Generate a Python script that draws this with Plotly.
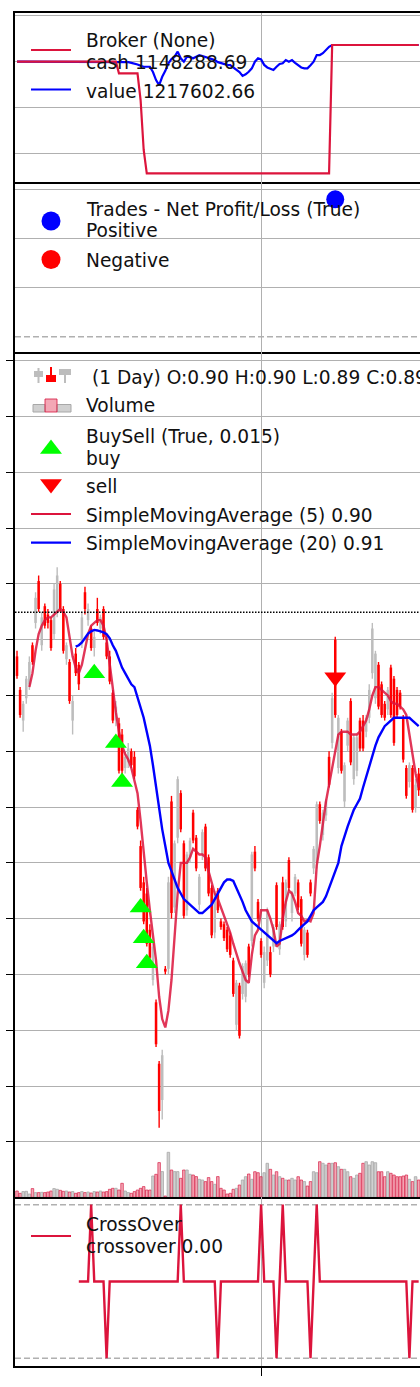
import plotly.graph_objects as go

# ---------------- data ----------------
OPEN = [0.874, 0.862, 0.851, 0.859, 0.864, 0.878, 0.886, 0.901, 0.878, 0.892,
        0.889, 0.887, 0.882, 0.890, 0.900, 0.891, 0.873, 0.872, 0.851, 0.875,
        0.871, 0.879, 0.897, 0.887, 0.884, 0.877, 0.891, 0.884, 0.891, 0.879,
        0.874, 0.861, 0.851, 0.850, 0.846, 0.834, 0.836, 0.840, 0.838, 0.819,
        0.806, 0.793, 0.789, 0.776, 0.758, 0.750, 0.728, 0.715, 0.762, 0.762,
        0.822, 0.784, 0.809, 0.825, 0.807, 0.783, 0.802, 0.818, 0.809, 0.785,
        0.803, 0.813, 0.802, 0.791, 0.775, 0.790, 0.779, 0.778, 0.776, 0.774,
        0.765, 0.742, 0.756, 0.753, 0.752, 0.770, 0.772, 0.804, 0.786, 0.772,
        0.757, 0.765, 0.768, 0.770, 0.792, 0.769, 0.793, 0.779, 0.801, 0.782,
        0.789, 0.793, 0.787, 0.767, 0.775, 0.793, 0.798, 0.800, 0.821, 0.810,
        0.817, 0.838, 0.843, 0.880, 0.834, 0.847, 0.822, 0.842, 0.858, 0.830,
        0.833, 0.851, 0.851, 0.847, 0.852, 0.868, 0.859, 0.871, 0.864, 0.857,
        0.855, 0.870, 0.866, 0.862, 0.861, 0.852, 0.834, 0.829, 0.834, 0.820,
        0.832]
HIGH = [0.876, 0.863, 0.858, 0.867, 0.874, 0.879, 0.897, 0.903, 0.890, 0.893,
        0.891, 0.888, 0.900, 0.906, 0.901, 0.892, 0.879, 0.873, 0.860, 0.877,
        0.872, 0.890, 0.899, 0.893, 0.885, 0.883, 0.895, 0.889, 0.892, 0.881,
        0.876, 0.862, 0.858, 0.852, 0.848, 0.840, 0.843, 0.841, 0.840, 0.820,
        0.808, 0.795, 0.791, 0.778, 0.772, 0.751, 0.729, 0.733, 0.763, 0.795,
        0.824, 0.808, 0.831, 0.826, 0.808, 0.804, 0.809, 0.819, 0.810, 0.796,
        0.812, 0.814, 0.803, 0.792, 0.790, 0.791, 0.780, 0.779, 0.777, 0.775,
        0.766, 0.758, 0.757, 0.764, 0.765, 0.771, 0.804, 0.806, 0.787, 0.773,
        0.770, 0.784, 0.770, 0.778, 0.793, 0.779, 0.795, 0.794, 0.802, 0.790,
        0.796, 0.794, 0.788, 0.777, 0.776, 0.794, 0.806, 0.822, 0.822, 0.819,
        0.823, 0.840, 0.861, 0.881, 0.853, 0.848, 0.836, 0.852, 0.859, 0.846,
        0.846, 0.852, 0.853, 0.853, 0.864, 0.886, 0.876, 0.872, 0.865, 0.858,
        0.863, 0.871, 0.867, 0.863, 0.862, 0.853, 0.835, 0.836, 0.835, 0.830,
        0.834]
LOW = [0.866, 0.852, 0.847, 0.857, 0.862, 0.871, 0.884, 0.890, 0.876, 0.884,
       0.884, 0.876, 0.880, 0.888, 0.890, 0.875, 0.871, 0.857, 0.846, 0.867,
       0.862, 0.877, 0.889, 0.885, 0.876, 0.874, 0.885, 0.882, 0.880, 0.873,
       0.864, 0.850, 0.849, 0.832, 0.831, 0.832, 0.834, 0.834, 0.830, 0.812,
       0.790, 0.778, 0.770, 0.765, 0.756, 0.734, 0.705, 0.708, 0.760, 0.760,
       0.780, 0.782, 0.807, 0.811, 0.780, 0.781, 0.800, 0.807, 0.797, 0.783,
       0.801, 0.797, 0.788, 0.773, 0.773, 0.782, 0.776, 0.772, 0.768, 0.766,
       0.752, 0.740, 0.737, 0.751, 0.750, 0.759, 0.770, 0.797, 0.779, 0.766,
       0.755, 0.763, 0.759, 0.768, 0.776, 0.767, 0.776, 0.777, 0.790, 0.779,
       0.788, 0.783, 0.770, 0.765, 0.766, 0.788, 0.796, 0.798, 0.814, 0.808,
       0.815, 0.827, 0.841, 0.852, 0.832, 0.832, 0.820, 0.840, 0.835, 0.828,
       0.831, 0.840, 0.840, 0.845, 0.850, 0.866, 0.857, 0.855, 0.852, 0.851,
       0.853, 0.852, 0.842, 0.852, 0.855, 0.836, 0.823, 0.827, 0.818, 0.818,
       0.824]
CLOSE = [0.867, 0.853, 0.857, 0.866, 0.872, 0.872, 0.895, 0.891, 0.888, 0.885,
         0.886, 0.877, 0.898, 0.903, 0.891, 0.876, 0.878, 0.858, 0.858, 0.868,
         0.864, 0.888, 0.891, 0.891, 0.877, 0.881, 0.886, 0.888, 0.881, 0.874,
         0.865, 0.851, 0.856, 0.833, 0.833, 0.838, 0.841, 0.835, 0.831, 0.813,
         0.791, 0.779, 0.771, 0.766, 0.770, 0.735, 0.711, 0.731, 0.761, 0.793,
         0.782, 0.807, 0.830, 0.812, 0.781, 0.803, 0.808, 0.808, 0.798, 0.795,
         0.811, 0.798, 0.789, 0.774, 0.789, 0.783, 0.777, 0.773, 0.769, 0.767,
         0.753, 0.757, 0.738, 0.763, 0.764, 0.760, 0.803, 0.798, 0.780, 0.767,
         0.768, 0.783, 0.760, 0.777, 0.777, 0.778, 0.777, 0.793, 0.791, 0.789,
         0.795, 0.784, 0.771, 0.776, 0.767, 0.789, 0.805, 0.821, 0.815, 0.818,
         0.822, 0.828, 0.859, 0.853, 0.852, 0.833, 0.835, 0.851, 0.836, 0.845,
         0.845, 0.841, 0.841, 0.852, 0.862, 0.884, 0.875, 0.856, 0.853, 0.852,
         0.862, 0.853, 0.843, 0.853, 0.856, 0.837, 0.824, 0.835, 0.819, 0.828,
         0.826]
VOLUME_K = [630, 400, 570, 600, 330, 870, 470, 470, 500, 470,
            530, 630, 870, 800, 700, 600, 630, 530, 570, 400,
            470, 570, 470, 530, 430, 570, 530, 630, 530, 570,
            800, 900, 900, 730, 1400, 630, 470, 400, 570, 730,
            900, 1070, 730, 730, 2130, 2300, 3470, 2570, 130, 4500,
            2730, 2570, 2570, 1900, 2730, 2730, 2300, 2230, 2070, 1800,
            1730, 1570, 1970, 1570, 1300, 2070, 900, 730, 330, 400,
            800, 900, 1230, 1730, 2060, 2330, 1800, 2560, 2460, 2060,
            2460, 3400, 2800, 2230, 2560, 2060, 1900, 1730, 1730, 1900,
            1730, 2060, 1730, 1570, 1130, 1570, 2560, 2460, 3560, 3400,
            3230, 3400, 3400, 3460, 3060, 2800, 2800, 2560, 2060, 1900,
            2230, 2400, 3400, 3560, 3230, 3560, 3460, 2560, 2560, 2060,
            2560, 2400, 2230, 2060, 2060, 2130, 2230, 1800, 1570, 2060,
            1730]
SMA5_START = 4
SMA5 = [0.863, 0.868, 0.876, 0.882, 0.885, 0.887,
        0.888, 0.888, 0.889, 0.890, 0.891, 0.890, 0.888, 0.881, 0.874, 0.870,
        0.868, 0.871, 0.876, 0.882, 0.885, 0.886, 0.887, 0.887, 0.885, 0.880,
        0.871, 0.861, 0.854, 0.847, 0.842, 0.839, 0.837, 0.834, 0.830, 0.825,
        0.815, 0.803, 0.793, 0.783, 0.773, 0.765, 0.752, 0.744, 0.741, 0.747,
        0.758, 0.774, 0.789, 0.800, 0.800, 0.800, 0.802, 0.805, 0.804, 0.803,
        0.803, 0.802, 0.797, 0.793, 0.789, 0.787, 0.784, 0.781, 0.778, 0.775,
        0.771, 0.767, 0.764, 0.761, 0.758, 0.757, 0.767, 0.774, 0.776, 0.783,
        0.783, 0.783, 0.780, 0.776, 0.770, 0.771, 0.780, 0.786, 0.790, 0.789,
        0.786, 0.782, 0.781, 0.779, 0.7795, 0.779, 0.782, 0.799, 0.806, 0.814,
        0.822, 0.828, 0.834, 0.840, 0.846, 0.847, 0.847, 0.847, 0.846, 0.846,
        0.846, 0.847, 0.849, 0.851, 0.855, 0.860, 0.863, 0.863, 0.862, 0.861,
        0.860, 0.858, 0.857, 0.857, 0.856, 0.855, 0.853, 0.846, 0.838, 0.832,
        0.827]
SMA20_START = 19
SMA20 = [0.8775,
         0.878, 0.879, 0.8805, 0.8822, 0.883, 0.8835, 0.8833, 0.883, 0.8826, 0.882,
         0.8805, 0.878, 0.876, 0.873, 0.870, 0.868, 0.866, 0.864, 0.863, 0.859,
         0.856, 0.852, 0.847, 0.842, 0.835, 0.827, 0.819, 0.812, 0.806, 0.800,
         0.797, 0.794, 0.791, 0.789, 0.787, 0.786, 0.785, 0.784, 0.783, 0.782,
         0.782, 0.783, 0.7838, 0.785, 0.787, 0.789, 0.791, 0.793, 0.794, 0.794,
         0.7935, 0.791, 0.789, 0.786, 0.783, 0.781, 0.779, 0.778, 0.777, 0.776,
         0.775, 0.774, 0.773, 0.772, 0.7712, 0.772, 0.7725, 0.773, 0.7735, 0.774,
         0.7748, 0.776, 0.777, 0.778, 0.779, 0.781, 0.783, 0.784, 0.785, 0.786,
         0.788, 0.791, 0.794, 0.797, 0.800, 0.806, 0.810, 0.813, 0.816, 0.819,
         0.821, 0.823, 0.827, 0.831, 0.834, 0.838, 0.842, 0.845, 0.847, 0.849,
         0.850, 0.851, 0.852, 0.852, 0.852, 0.852, 0.852, 0.852, 0.851, 0.850,
         0.849]
CROSS_START = 20
CROSSOVER = [0, 0, 0, 0, 1, 0, 0, 0, 0, -1,
             0, 0, 0, 0, 0, 0, 0, 0, 0, 0,
             0, 0, 0, 0, 0, 0, 0, 0, 0, 0,
             0, 0, 0, 1, 0, 0, 0, 0, 0, 0,
             0, 0, 0, 0, 0, -1, 0, 0, 0, 0,
             0, 0, 0, 0, 0, 0, 0, 0, 0, 1,
             0, 0, 0, 0, -1, 0, 1, 0, 0, 0,
             0, 0, 0, 0, 0, -1, 0, 1, 0, 0,
             0, 0, 0, 0, 0, 0, 0, 0, 0, 0,
             0, 0, 0, 0, 0, 0, 0, 0, 0, 0,
             0, 0, 0, 0, 0, 0, 0, -1, 0, 0,
             0]
CASH = [1000000, 1000000, 1000000, 1000000, 1000000, 1000000, 1000000, 1000000, 1000000, 1000000,
        1000000, 1000000, 1000000, 1000000, 1000000, 1000000, 1000000, 1000000, 1000000, 1000000,
        1000000, 1000000, 1000000, 1000000, 1000000, 1000000, 1000000, 1000000, 1000000, 1000000,
        1000000, 1000000, 1000000, 949300, 949300, 949300, 949300, 949300, 949300, 949300,
        832700, 614400, 512600, 512600, 512600, 512600, 512600, 512600, 512600, 512600,
        512600, 512600, 512600, 512600, 512600, 512600, 512600, 512600, 512600, 512600,
        512600, 512600, 512600, 512600, 512600, 512600, 512600, 512600, 512600, 512600,
        512600, 512600, 512600, 512600, 512600, 512600, 512600, 512600, 512600, 512600,
        512600, 512600, 512600, 512600, 512600, 512600, 512600, 512600, 512600, 512600,
        512600, 512600, 512600, 512600, 512600, 512600, 512600, 512600, 512600, 512600,
        512600, 512600, 1072900, 1072900, 1072900, 1072900, 1072900, 1072900, 1072900, 1072900,
        1072900, 1072900, 1072900, 1072900, 1072900, 1072900, 1072900, 1072900, 1072900, 1072900,
        1072900, 1072900, 1072900, 1072900, 1072900, 1072900, 1072900, 1072900, 1072900, 1072900,
        1072900]
VALUE = [1000000, 1000000, 1000000, 1000000, 1000000, 1000000, 1000000, 1000000, 1000000, 1000000,
         1000000, 1000000, 1000000, 1000000, 1000000, 1000000, 1000000, 1000000, 1000000, 1000000,
         1000000, 1000000, 1000000, 1000000, 1000000, 1000000, 1000000, 1000000, 1000000, 1000000,
         1000000, 1000000, 1000000, 1000000, 1000000, 1000000, 998000, 995000, 993000, 988000,
         982000, 978000, 978000, 978000, 955000, 920000, 898000, 934000, 960000, 993000,
         1012000, 1022000, 1044000, 1015000, 1000000, 1022000, 1020000, 1015000, 1022000, 1029000,
         1025000, 1020000, 1015000, 1010000, 1007000, 998000, 993000, 988000, 986000, 985000,
         975000, 964000, 955000, 938000, 945000, 956000, 971000, 1000000, 1015000, 1010000,
         986000, 975000, 971000, 964000, 978000, 990000, 993000, 1007000, 1000000, 1007000,
         995000, 986000, 975000, 971000, 971000, 985000, 1000000, 1029000, 1029000, 1037000,
         1050000, 1065000, 1072900, 1072900, 1072900, 1072900, 1072900, 1072900, 1072900, 1072900,
         1072900, 1072900, 1072900, 1072900, 1072900, 1072900, 1072900, 1072900, 1072900, 1072900,
         1072900, 1072900, 1072900, 1072900, 1072900, 1072900, 1072900, 1072900, 1072900, 1072900,
         1072900]
BUY_INDEX = [25, 32, 34, 40, 41, 42]
BUY_PRICE = [0.868, 0.843, 0.829, 0.784, 0.773, 0.764]
SELL_INDEX = [103]
SELL_PRICE = [0.8665]
TRADE_INDEX = [103]
TRADE_PNL = [69800]
LAST_CLOSE = 0.8898
DATE_TICK_INDEX = [79]
CROSS_LEVELS = [1, -1]

# ---------------- styling / layout constants ----------------
W, H = 420, 1387
ML, MR, MT, MB = 15, 0, 13, 21
PLOT_BOTTOM = H - MB
PLOT_H = H - MT - MB
FONT = "DejaVu Sans"
FS = 18.6
CRIMSON = "#dc143c"
BLUE = "#0000ff"
UPC = "#bdbdbd"
DOWNC = "#ff0000"
GRID = "#b0b0b0"
X_RANGE = [-0.65, 130.43]


def dom(top_px, bottom_px):
    return [(PLOT_BOTTOM - bottom_px) / PLOT_H, (PLOT_BOTTOM - top_px) / PLOT_H]


N = len(CLOSE)
IDX = list(range(N))
up = [c >= o for o, c in zip(OPEN, CLOSE)]

fig = go.Figure()

# ---- panel 1: broker ----
fig.add_trace(go.Scatter(x=IDX, y=VALUE, mode="lines", line=dict(color=BLUE, width=2.2),
                         xaxis="x", yaxis="y"))
fig.add_trace(go.Scatter(x=IDX, y=CASH, mode="lines", line=dict(color=CRIMSON, width=2.2),
                         xaxis="x", yaxis="y"))

# ---- panel 2: trades ----
fig.add_trace(go.Scatter(x=TRADE_INDEX, y=TRADE_PNL, mode="markers",
                         marker=dict(color=BLUE, size=18, symbol="circle"),
                         xaxis="x2", yaxis="y2", cliponaxis=False))

# ---- panel 3: price ----
for is_up, col in [(True, UPC), (False, DOWNC)]:
    wx, wy = [], []
    bx, bb, bh = [], [], []
    for i in IDX:
        if up[i] != is_up:
            continue
        wx += [i, i, None]
        wy += [LOW[i], HIGH[i], None]
        bx.append(i)
        lo = min(OPEN[i], CLOSE[i])
        bb.append(lo)
        bh.append(max(abs(CLOSE[i] - OPEN[i]), 0.0008))
    fig.add_trace(go.Scatter(x=wx, y=wy, mode="lines", line=dict(color=col, width=1.4),
                             xaxis="x3", yaxis="y3", connectgaps=False))
    fig.add_trace(go.Bar(x=bx, y=bh, base=bb, width=0.82,
                         marker=dict(color=col, line=dict(width=0)),
                         xaxis="x3", yaxis="y3"))

# volume (overlay axis)
vol_fill = ["rgba(200,200,200,0.85)" if u else "rgba(228,60,90,0.45)" for u in up]
vol_edge = ["#a8a8a8" if u else "rgba(215,30,70,0.85)" for u in up]
fig.add_trace(go.Bar(x=IDX, y=VOLUME_K, width=0.82,
                     marker=dict(color=vol_fill, line=dict(color=vol_edge, width=0.8)),
                     xaxis="x3", yaxis="y5"))

fig.add_trace(go.Scatter(x=IDX[SMA5_START:SMA5_START + len(SMA5)], y=SMA5, mode="lines",
                         line=dict(color=CRIMSON, width=2.4), opacity=0.85,
                         xaxis="x3", yaxis="y3"))
fig.add_trace(go.Scatter(x=IDX[SMA20_START:SMA20_START + len(SMA20)], y=SMA20, mode="lines",
                         line=dict(color=BLUE, width=2.4),
                         xaxis="x3", yaxis="y3"))
fig.add_trace(go.Scatter(x=BUY_INDEX, y=BUY_PRICE, mode="markers",
                         marker=dict(symbol="triangle-up", size=19, color="#00ff00"),
                         xaxis="x3", yaxis="y3"))
fig.add_trace(go.Scatter(x=SELL_INDEX, y=SELL_PRICE, mode="markers",
                         marker=dict(symbol="triangle-down", size=19, color="#ff0000"),
                         xaxis="x3", yaxis="y3"))

# ---- panel 4: crossover ----
fig.add_trace(go.Scatter(x=IDX[CROSS_START:CROSS_START + len(CROSSOVER)], y=CROSSOVER,
                         mode="lines", line=dict(color=CRIMSON, width=2.4),
                         xaxis="x4", yaxis="y4", cliponaxis=False))

# ---- legend glyphs (pixel overlay axis) ----
def seg(y, color):
    fig.add_trace(go.Scatter(x=[31, 71], y=[y, y], mode="lines",
                             line=dict(color=color, width=2.2),
                             xaxis="x6", yaxis="y6", cliponaxis=False))


def dot(x, y, color, symbol, size):
    fig.add_trace(go.Scatter(x=[x], y=[y], mode="markers",
                             marker=dict(color=color, symbol=symbol, size=size),
                             xaxis="x6", yaxis="y6", cliponaxis=False))


seg(50, CRIMSON)
seg(89.5, BLUE)
dot(51, 221, BLUE, "circle", 19)
dot(51, 259.5, "#ff0000", "circle", 19)
dot(51, 449, "#00ff00", "triangle-up", 19)
dot(51, 484, "#ff0000", "triangle-down", 19)
seg(514, CRIMSON)
seg(542.7, BLUE)
seg(1236, CRIMSON)

LEG_TEXT = [
    (40, "Broker (None)"), (62.5, "cash 1148288.69"), (91, "value 1217602.66"),
    (209, "Trades - Net Profit/Loss (True)"), (230.5, "Positive"), (260, "Negative"),
    (377, "\u00a0(1 Day) O:0.90 H:0.90 L:0.89 C:0.89"), (405, "Volume"),
    (436, "BuySell (True, 0.015)"), (458, "buy"), (486, "sell"),
    (515, "SimpleMovingAverage (5) 0.90"), (543, "SimpleMovingAverage (20) 0.91"),
    (1224, "CrossOver"), (1246, "crossover 0.00"),
]
annotations = [dict(xref="x6", yref="y6", x=84, y=yy, text=t, xanchor="left",
                    yanchor="middle", showarrow=False,
                    font=dict(family=FONT, size=FS, color="#111111"))
               for yy, t in LEG_TEXT]

shapes = []
# candle legend icon
for (x0, x1, yb0, yb1, yw0, yw1, col) in [
        (34, 43, 371, 377, 368, 383, UPC),
        (46, 56, 375, 382, 367, 382, DOWNC),
        (59, 71, 369, 375, 369, 383, UPC)]:
    xm = (x0 + x1) / 2
    shapes.append(dict(type="line", xref="x6", yref="y6", x0=xm, x1=xm, y0=yw0, y1=yw1,
                       line=dict(color=col, width=2)))
    shapes.append(dict(type="rect", xref="x6", yref="y6", x0=x0, x1=x1, y0=yb0, y1=yb1,
                       fillcolor=col, line=dict(width=0)))
# volume legend icon
for (x0, x1, y0, y1, f, e) in [
        (33, 45, 404.5, 412, "rgba(200,200,200,0.85)", "#a8a8a8"),
        (57, 71, 404.5, 412, "rgba(200,200,200,0.85)", "#a8a8a8"),
        (45, 57, 399, 412, "rgba(228,60,90,0.45)", "rgba(215,30,70,0.85)")]:
    shapes.append(dict(type="rect", xref="x6", yref="y6", x0=x0, x1=x1, y0=y0, y1=y1,
                       fillcolor=f, line=dict(color=e, width=1)))

# reference lines
shapes.append(dict(type="line", xref="x2 domain", x0=0, x1=1, yref="y2", y0=0, y1=0,
                   line=dict(color=GRID, width=1.5, dash="6px,3px")))
for lv in CROSS_LEVELS:
    shapes.append(dict(type="line", xref="x4 domain", x0=0, x1=1, yref="y4", y0=lv, y1=lv,
                       line=dict(color=GRID, width=1.5, dash="6px,3px"), layer="below"))
shapes.append(dict(type="line", xref="x3 domain", x0=0, x1=1, yref="y3",
                   y0=LAST_CLOSE, y1=LAST_CLOSE,
                   line=dict(color="#000000", width=1.5, dash="1.5px,1.5px")))

xcommon = dict(range=X_RANGE, showline=True, linecolor="#000000", linewidth=1.5,
               mirror=False, showgrid=True, gridcolor=GRID, gridwidth=1,
               tickvals=DATE_TICK_INDEX, showticklabels=False, ticks="",
               zeroline=False, fixedrange=True)
ycommon = dict(showline=True, linecolor="#000000", linewidth=1.5, mirror=False,
               showgrid=True, gridcolor=GRID, gridwidth=1, showticklabels=False,
               ticks="", zeroline=False, fixedrange=True)

fig.update_layout(
    width=W, height=H,
    margin=dict(l=ML, r=MR, t=MT, b=MB, pad=0),
    paper_bgcolor="#ffffff", plot_bgcolor="rgba(0,0,0,0)",
    showlegend=False, hovermode=False, barmode="overlay",
    font=dict(family=FONT, size=FS, color="#111111"),
    xaxis=dict(xcommon, anchor="y", domain=[0, 1], mirror=True),
    xaxis2=dict(xcommon, anchor="y2", domain=[0, 1]),
    xaxis3=dict(xcommon, anchor="y3", domain=[0, 1]),
    xaxis4=dict(xcommon, anchor="y4", domain=[0, 1], ticks="outside", ticklen=8,
                tickwidth=1.3, tickcolor="#000000"),
    yaxis=dict(ycommon, anchor="x", domain=dom(13, 181.7), range=[476000, 1212700],
               tickvals=[600000, 800000, 1000000, 1200000]),
    yaxis2=dict(ycommon, anchor="x2", domain=dom(181.7, 351.5), range=[-7520, 78760],
                tickvals=[25000, 50000, 75000]),
    yaxis3=dict(ycommon, anchor="x3", domain=dom(351.5, 1197.3), range=[0.6801, 0.9833],
                tick0=0, dtick=0.02, ticks="outside", ticklen=7, tickwidth=1.3,
                tickcolor="#000000"),
    yaxis4=dict(ycommon, anchor="x4", domain=dom(1197.3, 1366), range=[-1.1, 1.096],
                showgrid=False),
    yaxis5=dict(overlaying="y3", range=[0, 84600], visible=False, fixedrange=True),
    xaxis6=dict(domain=[0, 1], range=[ML, W], visible=False, fixedrange=True, anchor="y6"),
    yaxis6=dict(domain=[0, 1], range=[PLOT_BOTTOM, MT], visible=False, fixedrange=True,
                anchor="x6"),
    annotations=annotations,
    shapes=shapes,
)

fig.write_html("out.html", config={"displayModeBar": False},
               post_script="document.body.style.margin='0';document.body.style.overflow='hidden';")
